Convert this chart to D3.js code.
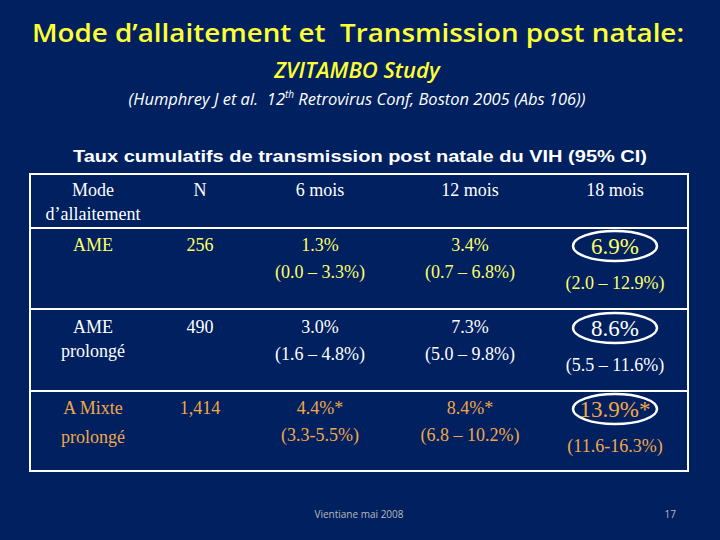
<!DOCTYPE html>
<html><head><meta charset="utf-8">
<script src="https://cdn.jsdelivr.net/npm/d3@7"></script>
<style>body{margin:0;background:#002060;} text{white-space:pre;}</style>
</head><body>
<svg id="c" width="720" height="540"></svg>
<script>
const columns = ["Mode\nd’allaitement", "N", "6 mois", "12 mois", "18 mois"];
const modes = [["AME"], ["AME", "prolongé"], ["A Mixte", "prolongé"]];
const nValues = ["256", "490", "1,414"];
const rates6 = ["1.3%", "3.0%", "4.4%*"];
const ci6 = ["(0.0 – 3.3%)", "(1.6 – 4.8%)", "(3.3-5.5%)"];
const rates12 = ["3.4%", "7.3%", "8.4%*"];
const ci12 = ["(0.7 – 6.8%)", "(5.0 – 9.8%)", "(6.8 – 10.2%)"];
const rates18 = ["6.9%", "8.6%", "13.9%*"];
const ci18 = ["(2.0 – 12.9%)", "(5.5 – 11.6%)", "(11.6-16.3%)"];
const rowColors = ["#ffff66", "#ffffff", "#f0a848"];

const svg = d3.select("#c");
svg.append("rect").attr("width",720).attr("height",540).attr("fill","#002060");
const yel="#ffff33";
svg.append("text").attr("x",358).attr("y",42).attr("text-anchor","middle")
 .attr("font-family","Open Sans").attr("font-weight","600").attr("font-size",25).attr("fill",yel)
 .attr("textLength",652).attr("lengthAdjust","spacingAndGlyphs")
 .text("Mode d’allaitement et  Transmission post natale:");
svg.append("text").attr("x",357).attr("y",78).attr("text-anchor","middle")
 .attr("font-family","Open Sans").attr("font-weight","600").attr("font-style","italic").attr("font-size",22).attr("fill",yel)
 .text("ZVITAMBO Study");
const cit = svg.append("text").attr("x",357).attr("y",105).attr("text-anchor","middle")
 .attr("font-family","Open Sans").attr("font-style","italic").attr("font-size",16.5).attr("fill","#fff");
cit.append("tspan").text("(Humphrey J et al.  12");
cit.append("tspan").attr("dy",-7).attr("font-size",10).text("th");
cit.append("tspan").attr("dy",7).text(" Retrovirus Conf, Boston 2005 (Abs 106))");
svg.append("text").attr("x",360).attr("y",162).attr("text-anchor","middle")
 .attr("font-family","Liberation Sans").attr("font-weight","bold").attr("font-size",17).attr("fill","#fff")
 .attr("textLength",574).attr("lengthAdjust","spacingAndGlyphs")
 .text("Taux cumulatifs de transmission post natale du VIH (95% CI)");

const x = d3.scaleOrdinal().domain(d3.range(5)).range([93,200,320,470,615]);
const lines = [174,228,309,391,471];
svg.append("rect").attr("x",30).attr("y",lines[0]).attr("width",658).attr("height",lines[4]-lines[0])
 .attr("fill","none").attr("stroke","#fff").attr("stroke-width",2);
svg.selectAll("line.r").data(lines.slice(1,4)).join("line").attr("x1",30).attr("x2",688)
 .attr("y1",d=>d).attr("y2",d=>d).attr("stroke","#fff").attr("stroke-width",2);

const serif="Liberation Serif";
function t(xx,yy,s,col,size){svg.append("text").attr("x",xx).attr("y",yy).attr("text-anchor","middle")
 .attr("font-family",serif).attr("font-size",size||18).attr("fill",col).text(s);}
columns.forEach((c,i)=>c.split("\n").forEach((l,j)=>t(x(i),196+j*24,l,"#fff")));
const rowTop=[251,333,414];
modes.forEach((m,r)=>{
  const c=rowColors[r], y0=rowTop[r];
  m.forEach((l,j)=>t(x(0),y0+j*(r==2?29:24),l,c));
  t(x(1),y0,nValues[r],c);
  t(x(2),y0,rates6[r],c); t(x(2),y0+27,ci6[r],c);
  t(x(3),y0,rates12[r],c); t(x(3),y0+27,ci12[r],c);
  t(x(4),y0+3,rates18[r],c,23); t(x(4),y0+38,ci18[r],c);
  svg.append("ellipse").attr("cx",x(4)).attr("cy",y0-5).attr("rx",42).attr("ry",15)
   .attr("fill","none").attr("stroke","#fff").attr("stroke-width",2.5);
});
svg.append("text").attr("x",359).attr("y",518).attr("text-anchor","middle").attr("font-family","Open Sans")
 .attr("font-size",10).attr("fill","#bbb").text("Vientiane mai 2008");
svg.append("text").attr("x",676).attr("y",518).attr("text-anchor","end").attr("font-family","Open Sans")
 .attr("font-size",10).attr("fill","#bbb").text("17");
</script></body></html>
